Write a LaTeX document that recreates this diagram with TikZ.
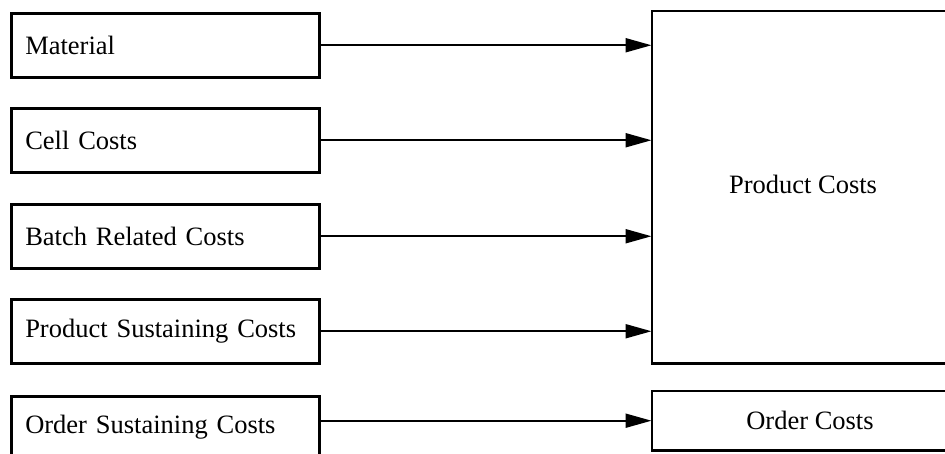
\documentclass[tikz,border=0pt]{standalone}
\usepackage{fontspec}
\setmainfont{Liberation Serif}
\usetikzlibrary{arrows.meta}
\begin{document}
\begin{tikzpicture}[x=1pt,y=-1pt,
  lbox/.style={draw, line width=2.5pt, anchor=north west, minimum height=64pt,
    text width=280pt, inner xsep=14pt, align=left, font=\fontsize{26.5}{30}\selectfont},
  rbox/.style={anchor=north west, inner sep=0pt},
  edge3/.style={line width=2.5pt, line join=miter},
  flow/.style={line width=2pt, -{Triangle[length=26pt,width=14pt]}, shorten >=0.5pt}
]
\useasboundingbox (0,0) rectangle (945,453);
\node[lbox] (m) at (10,12) {Material};
\node[lbox] (c) at (10,107) {Cell Costs};
\node[lbox] (b) at (10,203) {Batch Related Costs};
\node[lbox] (p) at (10,298) {Product Sustaining Costs};
\node[lbox, minimum height=62pt] (o) at (10,395) {Order Sustaining Costs};
\node[rbox, minimum width=320pt, minimum height=352pt] (pc) at (652,11) {};
\node[font=\fontsize{26.5}{30}\selectfont] (pct) at (803,184) {Product Costs};
\node[rbox, minimum width=320pt, minimum height=59pt] (oc) at (652,391) {};
\node[font=\fontsize{26.5}{30}\selectfont] (oct) at (810,420) {Order Costs};
\draw[edge3] (pc.north east) -- (pc.north west) -- (pc.south west) -- (pc.south east);
\draw[edge3] (oc.north east) -- (oc.north west) -- (oc.south west) -- (oc.south east);
\draw[flow] (m.east) -- (m.east -| pc.west);
\draw[flow] (c.east) -- (c.east -| pc.west);
\draw[flow] (b.east) -- (b.east -| pc.west);
\draw[flow] (p.east) -- (p.east -| pc.west);
\draw[flow] (oc.west -| o.east) -- (oc.west);
\end{tikzpicture}
\end{document}
